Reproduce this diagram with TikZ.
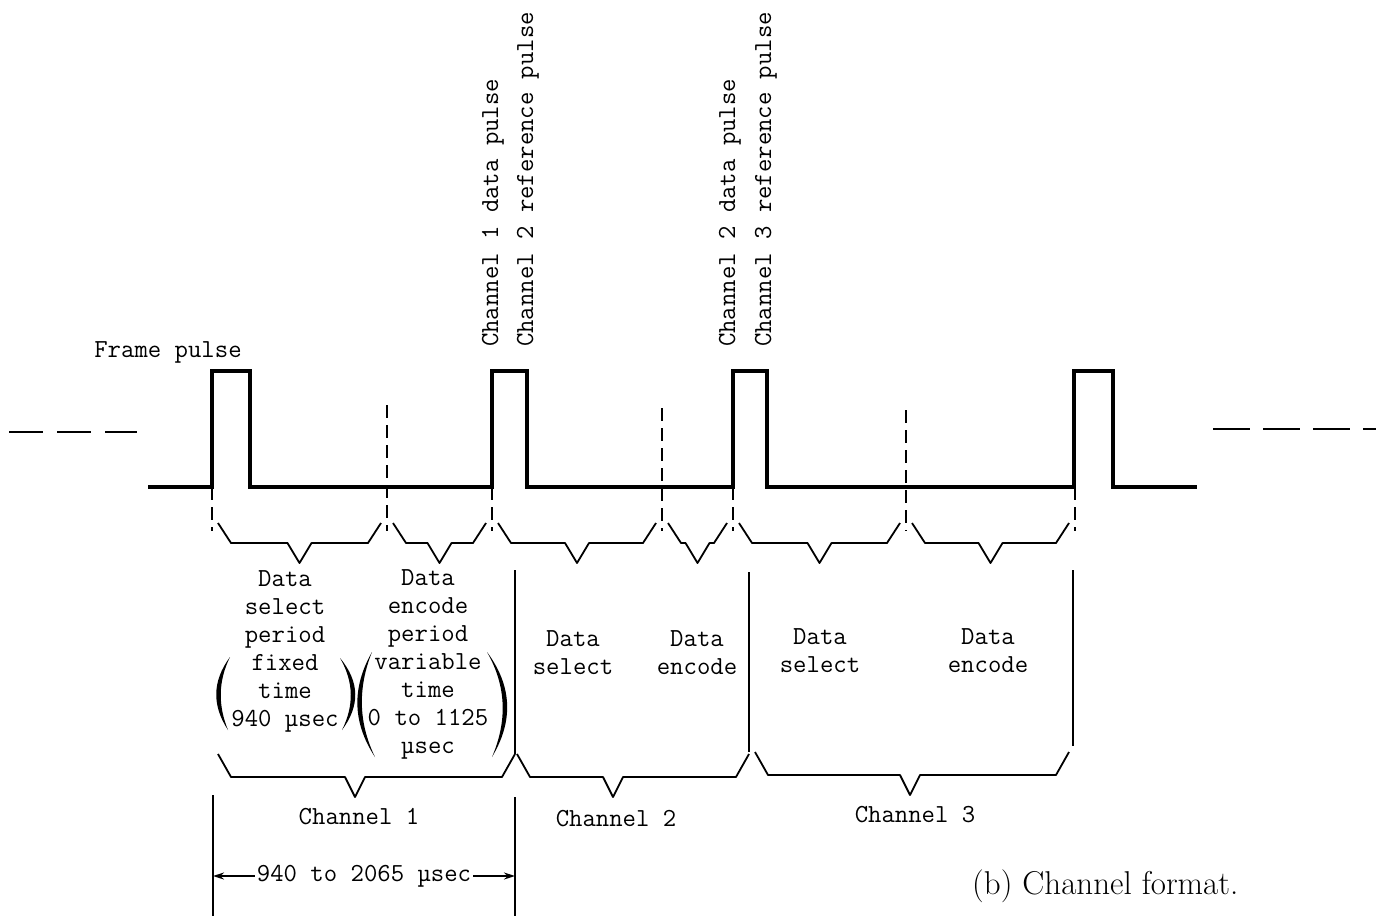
\documentclass[tikz,border=0pt]{standalone}
\usepackage{fontspec}
\usetikzlibrary{arrows.meta}
\newcommand{\tw}{\fontsize{26}{28}\selectfont\ttfamily}

\begin{document}
\begin{tikzpicture}[x=1pt,y=-1pt,>={Stealth[length=11pt,width=7pt]}]

% styles
\tikzset{
  lbl/.style={font=\tw,inner sep=0pt,align=center},
  side/.style={font=\tw,inner sep=0pt,rotate=90,anchor=base west},
  wave/.style={line width=3.2pt,line join=miter},
  guide/.style={line width=2pt,dash pattern=on 13pt off 7pt},
  brace/.style={line width=1.8pt,line join=round},
  bar/.style={line width=2pt}
}

\useasboundingbox (0,0) rectangle (1376,916);

% levels
\def\ylo{487}
\def\yhi{371}
\def\btop{523}
\def\bmid{543}
\def\btip{563}

% pulse train
\draw[wave] (148,\ylo) -- (212,\ylo) -- (212,\yhi) -- (250,\yhi) -- (250,\ylo)
  -- (492,\ylo) -- (492,\yhi) -- (527,\yhi) -- (527,\ylo)
  -- (733,\ylo) -- (733,\yhi) -- (767,\yhi) -- (767,\ylo)
  -- (1074,\ylo) -- (1074,\yhi) -- (1113,\yhi) -- (1113,\ylo) -- (1197,\ylo);

% continuation marks
\draw[line width=2pt,dash pattern=on 34pt off 14pt] (9,432) -- (137,432);
\draw[line width=2pt,dash pattern=on 37pt off 13pt] (1213,429) -- (1376,429);

% dashed period boundaries
\foreach \x/\y in {212/\ylo, 387/405, 492/\ylo, 662/408, 733/\ylo, 906/410, 1075/\ylo}{
  \draw[guide] (\x,\y) -- (\x,531);
}

% upper braces
\foreach \a/\b in {212/387, 387/492, 492/662, 662/733, 733/906, 906/1075}{
  \draw[brace] (\a+6,\btop) -- (\a+19,\bmid) -- ({(\a+\b)/2-12},\bmid)
    -- ({(\a+\b)/2},\btip) -- ({(\a+\b)/2+12},\bmid) -- (\b-19,\bmid) -- (\b-6,\btop);
}

% channel separators
\draw[bar] (515,570) -- (515,754);
\draw[bar] (749,572) -- (749,752);
\draw[bar] (1073,570) -- (1073,746);

% lower braces
\foreach \a/\b/\m/\y in {218/515/355/754, 517/749/613/754, 755/1069/910/752}{
  \draw[brace] (\a,\y) -- (\a+13,\y+23) -- (\m-10,\y+23) -- (\m,\y+43)
    -- (\m+10,\y+23) -- (\b-13,\y+23) -- (\b,\y);
}

% brackets round the times
\foreach \xt/\yt/\xb/\yb/\xc/\d in {230/657/228/730/212/6, 340/658/342/730/360/-6,
                                   372/652/375/757/352/6, 487/652/492/757/513/-6}{
  \fill (\xt,\yt) .. controls (\xc,{\yt+(\yb-\yt)/3}) and (\xc,{\yt+2*(\yb-\yt)/3}) .. (\xb,\yb)
    .. controls (\xc+\d,{\yt+2*(\yb-\yt)/3}) and (\xc+\d,{\yt+(\yb-\yt)/3}) .. (\xt,\yt) -- cycle;
}

% pulse names
\node[lbl,anchor=base] (frame) at (168,357) {Frame pulse};
\node[side] (data1) at (498,347) {Channel 1 data pulse};
\node[side] (ref2) at (533,347) {Channel 2 reference pulse};
\node[side] (data2) at (735,347) {Channel 2 data pulse};
\node[side] (ref3) at (771,347) {Channel 3 reference pulse};

% periods
\node[lbl,anchor=north] (selA) at (285,570) {Data\\select\\period\\fixed\\time\\940 µsec};
\node[lbl,anchor=north] (encA) at (428,569) {Data\\encode\\period\\variable\\time\\0 to 1125\\µsec};
\node[lbl,anchor=north] (selB) at (573,630) {Data\\select};
\node[lbl,anchor=north] (encB) at (697,630) {Data\\encode};
\node[lbl,anchor=north] (selC) at (820,628) {Data\\select};
\node[lbl,anchor=north] (encC) at (988,628) {Data\\encode};

% channels
\node[lbl,anchor=base] (chA) at (359,824) {Channel 1};
\node[lbl,anchor=base] (chB) at (616,826) {Channel 2};
\node[lbl,anchor=base] (chC) at (915,822) {Channel 3};

% channel length
\coordinate (tickL) at (213,795);
\coordinate (tickR) at (515,797);
\draw[bar] (tickL) -- (213,916);
\draw[bar] (tickR) -- (515,916);
\node[lbl,inner xsep=2pt] (span) at (364,876) {940 to 2065 µsec};
\coordinate (dimL) at (span -| tickL);
\coordinate (dimR) at (span -| tickR);
\draw[->,line width=1.6pt] (span) -- (dimL);
\draw[->,line width=1.6pt] (span) -- (dimR);

% caption
\node[font=\fontsize{33}{38}\selectfont,inner sep=0pt,anchor=base west] (cap) at (972,894) {(b) Channel format.};

\end{tikzpicture}
\end{document}
